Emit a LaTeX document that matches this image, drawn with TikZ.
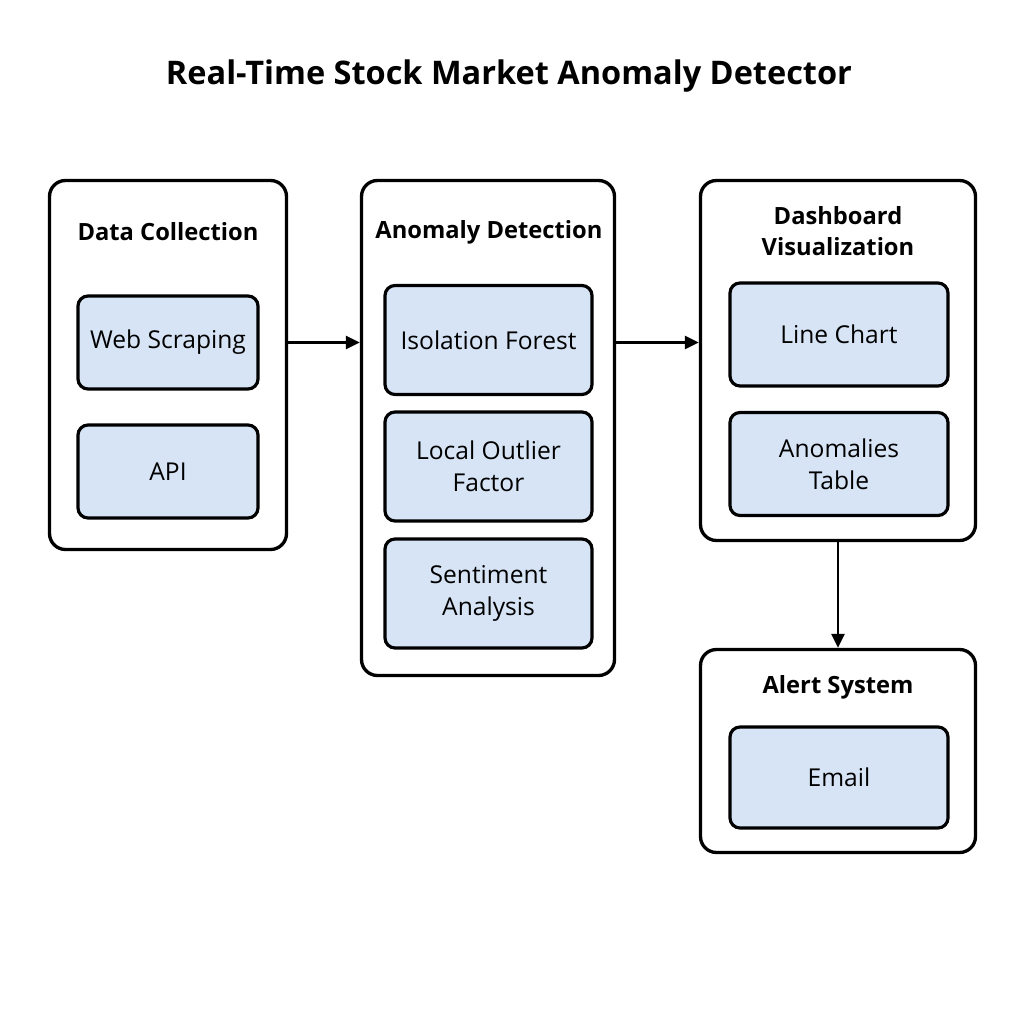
\documentclass[tikz,border=0pt]{standalone}
\usepackage{fontspec}
\setmainfont{Open Sans}
\usepackage{tikz}
\usetikzlibrary{arrows.meta, positioning}
\definecolor{boxblue}{HTML}{D6E4F5}

\begin{document}
\begin{tikzpicture}[
  x=0.02cm, y=-0.02cm,
  group/.style={draw, line width=1.9pt, rounded corners=0.32cm, fill=white},
  item/.style={draw, line width=1.8pt, rounded corners=0.2cm, fill=boxblue, align=center, font=\fontsize{14}{18}\selectfont},
  head/.style={align=center, font=\fontsize{13.5}{18}\selectfont\bfseries},
  >={Triangle[length=0.28cm, width=0.26cm]}
]
\useasboundingbox[fill=white] (0,0) rectangle (1024,1024);

\node[font=\fontsize{18.5}{22}\selectfont\bfseries] (title) at (509,76) {Real-Time Stock Market Anomaly Detector};

% data collection
\node[group, minimum width=237*0.02cm, minimum height=369*0.02cm] (dc) at (168,365) {};
\node[head] (dchead) at (168,232) {Data Collection};
\node[item, minimum width=180*0.02cm, minimum height=93*0.02cm] (web) at (168,342.5) {Web Scraping};
\node[item, minimum width=180*0.02cm, minimum height=93*0.02cm] (api) at (168,471.5) {API};

% anomaly detection
\node[group, minimum width=253*0.02cm, minimum height=495*0.02cm] (ad) at (488,428) {};
\node[head] (adhead) at (489,232) {Anomaly Detection};
\node[item, minimum width=207*0.02cm, minimum height=109*0.02cm] (iso) at (488.5,340) {Isolation Forest};
\node[item, minimum width=207*0.02cm, minimum height=109*0.02cm] (lof) at (488.5,466.5) {Local Outlier\\Factor};
\node[item, minimum width=207*0.02cm, minimum height=109*0.02cm] (sent) at (488.5,593.5) {Sentiment\\Analysis};

% dashboard
\node[group, minimum width=275*0.02cm, minimum height=360*0.02cm] (dash) at (838,360.5) {};
\node[head] (dashhead) at (838,231) {Dashboard\\Visualization};
\node[item, minimum width=218*0.02cm, minimum height=103*0.02cm] (line) at (839,334.5) {Line Chart};
\node[item, minimum width=218*0.02cm, minimum height=103*0.02cm] (tab) at (839,464) {Anomalies\\Table};

% alert system
\node[group, minimum width=275*0.02cm, minimum height=203*0.02cm] (alert) at (838,751) {};
\node[head] (alerthead) at (838,687) {Alert System};
\node[item, minimum width=218*0.02cm, minimum height=101*0.02cm] (email) at (839,777.5) {Email};

\draw[->, line width=1.6pt] (web -| dc.east) -- (web -| ad.west);
\draw[->, line width=1.6pt] (web -| ad.east) -- (web -| dash.west);
\draw[->, line width=1.6pt] (dash.south) -- (alert.north);
\end{tikzpicture}
\end{document}
